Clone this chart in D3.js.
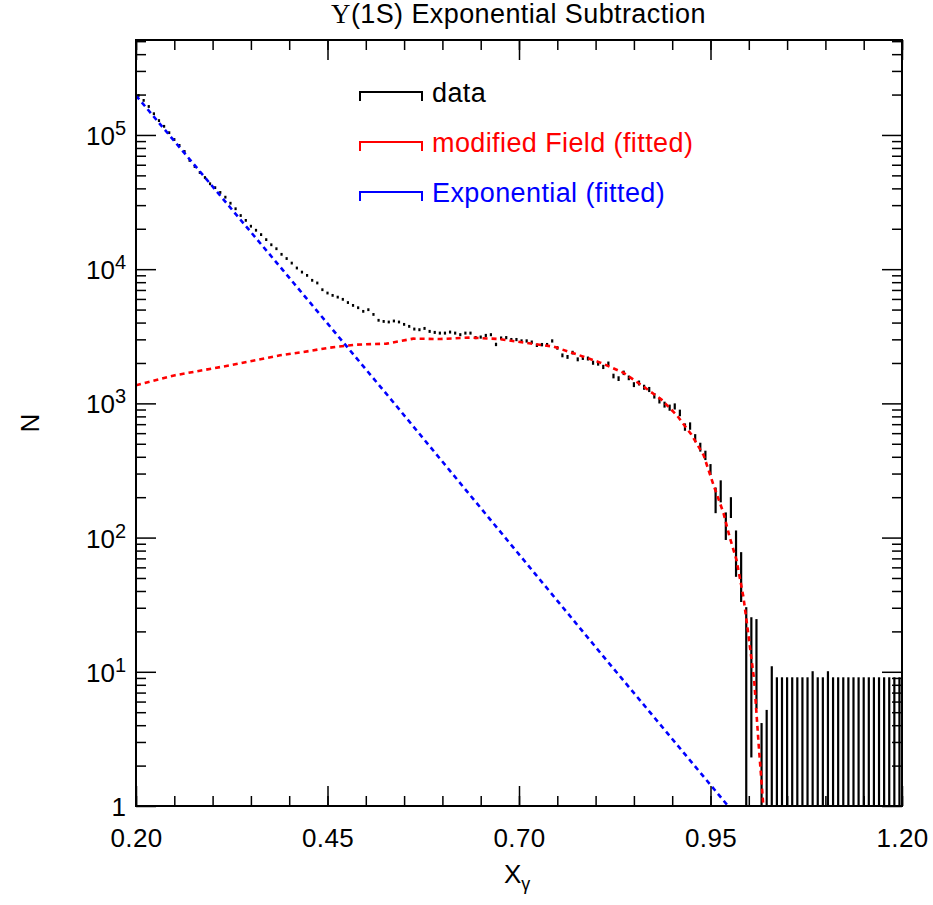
<!DOCTYPE html>
<html lang="en">
<head>
    <meta charset="UTF-8">
    <script src="https://d3js.org/d3.v7.min.js" charset="utf-8"></script>
    <title>Upsilon(1S) Exponential Subtraction</title>
    <style>
        body { margin: 0; background: white; }
        text { font-family: "Liberation Sans", Arial, sans-serif; }
    </style>
</head>
<body>
<div id="chart"></div>

<script>
    // histogram binning (150 bins from 0.2 to 1.2)
    const binStart = 0.2;
    const binWidth = 1 / 150;

    // data counts per bin
    const dataN = [
        197000, 181000, 163000, 144000, 128000, 116000, 104000, 92500, 83600, 75300,
        64600, 58200, 52500, 48200, 43300, 40500, 37300, 34400, 31000, 28200,
        25100, 23100, 20900, 19500, 18100, 16600, 15200, 14200, 12900, 12000,
        11100, 10200, 9510, 8990, 8260, 7890, 7030, 6640, 6380, 6190,
        5960, 5640, 5370, 5160, 4850, 4990, 4600, 4160, 4080, 4040,
        4110, 4040, 3880, 3750, 3580, 3540, 3620, 3440, 3380, 3340,
        3340, 3400, 3340, 3250, 3340, 3340, 3090, 3120, 3210, 3250,
        2750, 3070, 3090, 2990, 2990, 2920, 2920, 2860, 2710, 2740,
        2740, 2920, 2590, 2280, 2220, 2390, 2130, 2180, 2160, 2010,
        1980, 1870, 1980, 1600, 1530, 1690, 1550, 1380, 1420, 1320,
        1270, 1140, 1050, 980, 930, 950, 850, 667, 679, 552,
        473, 411, 323, 194, 225, 125, 170, 82, 55.5, 14,
        13.9, 15, 1.5, 2, 0, 0, 0, 0, 0, 0,
        0, 0, 0, 0, 0, 0, 0, 0, 0, 0,
        0, 0, 0, 0, 0, 0, 0, 0, 0, 0
    ];

    // error per bin
    const dataErr = [
        600, 580, 550, 520, 490, 470, 440, 420, 400, 380,
        350, 330, 320, 300, 290, 280, 270, 260, 250, 240,
        230, 220, 210, 200, 195, 190, 180, 175, 170, 165,
        160, 155, 150, 145, 140, 135, 130, 125, 120, 118,
        115, 112, 110, 108, 105, 106, 102, 98, 97, 96,
        96, 95, 94, 92, 90, 90, 91, 88, 87, 86,
        86, 87, 86, 85, 86, 86, 83, 84, 85, 85,
        80, 83, 84, 82, 82, 82, 82, 81, 79, 80,
        80, 82, 78, 75, 74, 76, 72, 73, 73, 71,
        70, 68, 70, 64, 62, 65, 62, 58, 60, 57,
        56, 54, 52, 50, 49, 50, 48, 42, 43, 38,
        36, 33, 30, 42, 42, 29, 30, 31, 22.4, 16.3,
        11.6, 9.7, 2.65, 3.2, 11, 9.1, 9.1, 9.1, 9.1, 9.1,
        9.1, 9.1, 10.1, 9.1, 9.1, 10.1, 9.1, 9.1, 9.1, 9.1,
        9.1, 9.1, 9.1, 9.1, 9.1, 9.1, 9.1, 9.1, 9.1, 9.1
    ];

    // modified Field fit
    const fieldX = [0.200, 0.251, 0.323, 0.388, 0.418, 0.453, 0.488, 0.527, 0.562, 0.597,
        0.636, 0.673, 0.710, 0.745, 0.775, 0.806, 0.836, 0.862, 0.886, 0.906,
        0.925, 0.941, 0.954, 0.967, 0.975, 0.984, 0.993, 0.999, 1.007, 1.013, 1.019];
    const fieldN = [1364, 1620, 1922, 2281, 2414, 2602, 2740, 2787, 3036, 3017,
        3093, 3017, 2818, 2650, 2322, 2013, 1696, 1341, 1067, 815,
        586, 411, 246, 152, 101, 67.9, 36, 19.8, 8.7, 2.8, 1];

    // exponential fit
    const expoX = [0.200, 0.392, 0.532, 0.806, 0.973];
    const expoN = [196800, 9800, 1086, 13.9, 1];

    // axis ticks
    const xMajor = [0.20, 0.45, 0.70, 0.95, 1.20];
    const xMinor = [0.20, 0.25, 0.30, 0.35, 0.40, 0.45, 0.50, 0.55, 0.60, 0.65, 0.70,
        0.75, 0.80, 0.85, 0.90, 0.95, 1.00, 1.05, 1.10, 1.15, 1.20];
    const yMajor = [1, 10, 100, 1000, 10000, 100000];
    const yMinor = [2, 3, 4, 5, 6, 7, 8, 9, 20, 30, 40, 50, 60, 70, 80, 90,
        200, 300, 400, 500, 600, 700, 800, 900, 2000, 3000, 4000, 5000, 6000, 7000, 8000, 9000,
        20000, 30000, 40000, 50000, 60000, 70000, 80000, 90000, 200000, 300000, 400000, 500000];
    const yExp = ["", "1", "2", "3", "4", "5"];

    const legendItems = [
        {label: "data", color: "#000000"},
        {label: "modified Field (fitted)", color: "#ff0000"},
        {label: "Exponential (fitted)", color: "#0000ff"}
    ];

    const svgWidth = 933;
    const svgHeight = 905;
    const plotL = 136, plotR = 902, plotT = 40, plotB = 806;

    const svg = d3.select("#chart").append("svg")
        .attr("width", svgWidth)
        .attr("height", svgHeight);

    const x = d3.scaleLinear().domain([0.2, 1.2]).range([plotL, plotR]);
    const y = d3.scaleLog().domain([1, 5.1e5]).range([plotB, plotT]);

    svg.append("clipPath").attr("id", "plot-clip")
        .append("rect")
        .attr("x", plotL).attr("y", plotT)
        .attr("width", plotR - plotL).attr("height", plotB - plotT);

    const plot = svg.append("g").attr("clip-path", "url(#plot-clip)");

    // data points with error bars
    const bins = dataN.map((n, i) => ({
        x: binStart + (i + 0.5) * binWidth,
        n: n,
        err: dataErr[i]
    }));

    plot.selectAll("line.data")
        .data(bins)
        .enter()
        .append("line")
        .attr("class", "data")
        .attr("x1", d => x(d.x))
        .attr("x2", d => x(d.x))
        .attr("y1", d => {
            const lo = d.n - d.err;
            let y1 = lo > 1 ? y(lo) : plotB + 2;
            if (d.n > 0) {
                y1 = Math.max(y1, y(d.n) + 1.4);
            }
            return y1;
        })
        .attr("y2", d => {
            let y2 = y(d.n + d.err);
            if (d.n > 0) y2 = Math.min(y2, y(d.n) - 1.4);
            return y2;
        })
        .attr("stroke", "#000")
        .attr("stroke-width", 2.2);

    // fitted curves
    const line = d3.line()
        .x(d => x(d[0]))
        .y(d => y(d[1]));

    plot.append("path")
        .attr("d", line(fieldX.map((v, i) => [v, fieldN[i]])))
        .attr("fill", "none")
        .attr("stroke", "#ff0000")
        .attr("stroke-width", 2.6)
        .attr("stroke-dasharray", "5 4");

    plot.append("path")
        .attr("d", line(expoX.map((v, i) => [v, expoN[i]])))
        .attr("fill", "none")
        .attr("stroke", "#0000ff")
        .attr("stroke-width", 2.6)
        .attr("stroke-dasharray", "5 4");

    // axes: ticks pointing inward on all four sides
    const tickStyle = g => {
        g.select(".domain").remove();
        g.selectAll(".tick line").attr("stroke", "#000").attr("stroke-width", 1.5);
    };

    svg.append("g").attr("transform", `translate(0,${plotB})`)
        .call(d3.axisBottom(x).tickValues(xMinor).tickSize(-10).tickFormat(""))
        .call(tickStyle);
    svg.append("g").attr("transform", `translate(0,${plotT})`)
        .call(d3.axisTop(x).tickValues(xMinor).tickSize(-10).tickFormat(""))
        .call(tickStyle);
    svg.append("g").attr("transform", `translate(0,${plotT})`)
        .call(d3.axisTop(x).tickValues(xMajor).tickSize(-20).tickFormat(""))
        .call(tickStyle);
    svg.append("g").attr("transform", `translate(0,${plotB})`)
        .call(d3.axisBottom(x).tickValues(xMajor).tickSize(-20).tickPadding(23).tickFormat(d3.format(".2f")))
        .call(tickStyle)
        .call(g => g.selectAll(".tick text")
            .attr("fill", "#000")
            .style("font-size", "26px")
            .style("letter-spacing", "0.3px")
            .style("font-family", "Liberation Sans, Arial, sans-serif"));

    svg.append("g").attr("transform", `translate(${plotL},0)`)
        .call(d3.axisLeft(y).tickValues(yMinor).tickSize(-10).tickFormat(""))
        .call(tickStyle);
    svg.append("g").attr("transform", `translate(${plotL},0)`)
        .call(d3.axisLeft(y).tickValues(yMajor).tickSize(-20).tickFormat(""))
        .call(tickStyle);
    svg.append("g").attr("transform", `translate(${plotR},0)`)
        .call(d3.axisRight(y).tickValues(yMinor).tickSize(-10).tickFormat(""))
        .call(tickStyle);
    svg.append("g").attr("transform", `translate(${plotR},0)`)
        .call(d3.axisRight(y).tickValues(yMajor).tickSize(-20).tickFormat(""))
        .call(tickStyle);

    // y tick labels as powers of ten
    yMajor.forEach((v, i) => {
        const t = svg.append("text")
            .attr("x", 126)
            .attr("y", y(v) + 10)
            .attr("text-anchor", "end")
            .style("font-size", "26px");
        if (yExp[i] === "") {
            t.text("1");
        } else {
            t.append("tspan").text("10");
            t.append("tspan").attr("dy", -10).style("font-size", "20px").text(yExp[i]);
        }
    });

    // frame
    svg.append("rect")
        .attr("x", plotL).attr("y", plotT)
        .attr("width", plotR - plotL).attr("height", plotB - plotT)
        .attr("fill", "none")
        .attr("stroke", "#000")
        .attr("stroke-width", 2);

    // title
    const title = svg.append("text")
        .attr("x", 331)
        .attr("y", 23)
        .style("font-size", "27px")
        .style("letter-spacing", "0.4px");
    title.append("tspan").style("font-family", "Liberation Serif, Times New Roman, serif").text("\u03A5");
    title.append("tspan").text("(1S) Exponential Subtraction");

    // axis titles
    const xTitle = svg.append("text")
        .attr("x", 504)
        .attr("y", 883)
        .style("font-size", "26px");
    xTitle.append("tspan").text("X");
    xTitle.append("tspan").attr("dy", 7).style("font-size", "18px").text("\u03B3");

    svg.append("text")
        .attr("transform", "translate(39,423) rotate(-90)")
        .attr("text-anchor", "middle")
        .style("font-size", "26px")
        .text("N");

    // legend
    const legend = svg.append("g");
    legendItems.forEach((item, i) => {
        const ly = 92 + i * 50;
        legend.append("path")
            .attr("d", `M360,${ly + 9}V${ly}H422V${ly + 9}`)
            .attr("fill", "none")
            .attr("stroke", item.color)
            .attr("stroke-width", 2);
        legend.append("text")
            .attr("x", 432)
            .attr("y", ly + 10)
            .attr("fill", item.color)
            .style("font-size", "27px")
            .style("letter-spacing", "0.4px")
            .text(item.label);
    });
</script>
</body>
</html>
